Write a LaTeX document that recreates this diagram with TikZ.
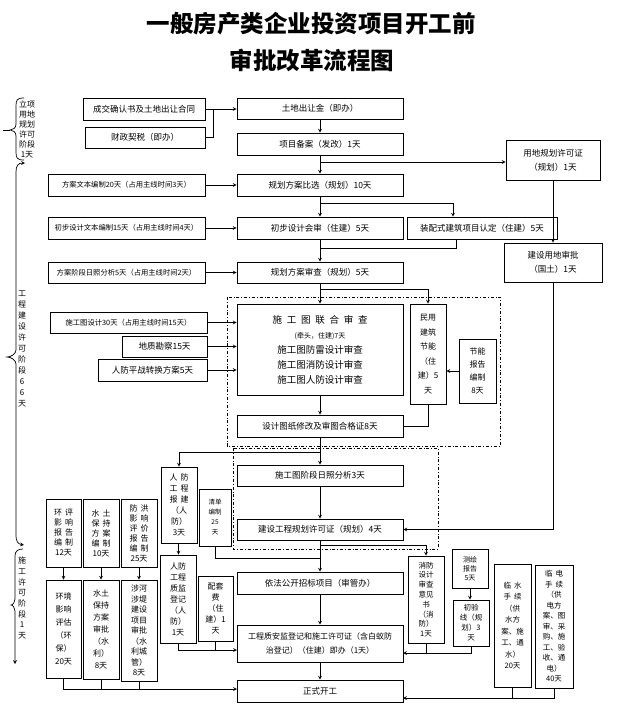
\documentclass[tikz,border=0pt]{standalone}
\usepackage{fontspec}
\setmainfont{Noto Sans CJK SC}
\newcommand{\cgap}{\hspace{3pt}}
\newcommand{\flow}[7][]{\node[box,#1,minimum width={(#5-#3)*1pt},minimum height={(#6-#4)*1pt}] (#2) at ({(#3+#5)/2},{(#4+#6)/2}) {#7};}

\begin{document}
\begin{tikzpicture}[x=1pt,y=-1pt,
    box/.style={draw,line width=0.8pt,inner sep=1pt,align=center,font=\fontsize{8.5}{10}\selectfont},
    side/.style={font=\fontsize{7.3}{9}\selectfont},
    col/.style={font=\fontsize{8}{11}\selectfont},
    link/.style={line width=0.7pt},
    phase/.style={align=center,font=\fontsize{8}{10}\selectfont}]
\useasboundingbox (0,0) rectangle (640,709);
\node[font=\bfseries\fontsize{23.5}{24}\selectfont] (title) at (311,24) {一般房产类企业投资项目开工前};
\node[font=\bfseries\fontsize{23.5}{24}\selectfont] (subtitle) at (312,60) {审批改革流程图};

\flow{cj}{83}{98}{205}{120}{成交确认书及土地出让合同}
\flow{cz}{85}{127}{205}{148}{财政契税（即办）}
\flow{td}{237}{98}{403}{119}{土地出让金（即办）}
\flow{ba}{237}{133}{403}{155}{项目备案（发改）1天}
\flow{bx}{237}{174}{403}{196}{规划方案比选（规划）10天}
\flow[side]{wb}{48}{174}{205}{196}{方案文本编制20天（占用主线时间3天）}
\flow{cs}{237}{217}{403}{239}{初步设计会审（住建）5天}
\flow[side]{cb}{48}{217}{205}{239}{初步设计文本编制15天（占用主线时间4天）}
\flow{zp}{407}{217}{557}{239}{装配式建筑项目认定（住建）5天}
\flow{sc}{237}{262}{403}{283}{规划方案审查（规划）5天}
\flow[side]{rf}{48}{262}{205}{283}{方案阶段日照分析5天（占用主线时间2天）}
\flow[font=\fontsize{8.5}{14}\selectfont]{yd}{506}{140}{600}{180}{用地规划许可证\\（规划）1天}
\flow[font=\fontsize{8.5}{14}\selectfont]{sp}{504}{243}{602}{282}{建设用地审批\\（国土）1天}

\draw[link,dash dot] (227,297) rectangle (500,446);
\flow[font=\fontsize{9.5}{15}\selectfont]{lh}{237}{304}{403}{395}{施\enspace 工\enspace 图\enspace 联\enspace 合\enspace 审\enspace 查\\{\fontsize{7}{9}\selectfont (牵头，住建)7天}\\施工图防雷设计审查\\施工图消防设计审查\\施工图人防设计审查}
\flow[font=\fontsize{8}{14.5}\selectfont]{my}{410}{304}{446}{404}{民用\\建筑\\节能\\（住\\建）5\\天}
\flow[font=\fontsize{8}{13}\selectfont]{jn}{459}{339}{496}{403}{节能\\报告\\编制\\8天}
\flow{sj}{237}{415}{403}{437}{设计图纸修改及审图合格证8天}
\flow[side]{sg}{50}{312}{207}{333}{施工图设计30天（占用主线时间15天）}
\flow{dz}{122}{336}{207}{357}{地质勘察15天}
\flow{rp}{98}{359}{207}{381}{人防平战转换方案5天}

\draw[link,dash dot] (233,448) rectangle (438,549);
\flow{rz}{237}{465}{403}{486}{施工图阶段日照分析3天}
\flow{gh}{237}{519}{403}{540}{建设工程规划许可证（规划）4天}
\flow[col]{rb}{161}{467}{197}{543}{人\cgap 防\\工\cgap 程\\报\cgap 建\\（人\\防）\\3天}
\flow[font=\fontsize{6.5}{10}\selectfont]{qd}{199}{489}{231}{546}{清单\\编制\\25\\天}
\flow{zb}{237}{572}{403}{594}{依法公开招标项目（审管办）}
\flow[font=\fontsize{8}{14}\selectfont]{zj}{237}{625}{403}{662}{工程质安监登记和施工许可证（含白蚁防\\治登记）（住建）即办（1天）}
\flow{kg}{237}{680}{403}{702}{正式开工}
\flow[col]{rj}{160}{555}{196}{643}{人防\\工程\\质监\\登记\\（人\\防）\\1天}
\flow[col]{pt}{198}{576}{233}{641}{配套\\费\\（住\\建）1\\天}
\flow[font=\fontsize{7.5}{9.8}\selectfont]{xf}{408}{556}{444}{643}{消防\\设计\\审查\\意见\\书\\（消\\防）\\1天}
\flow[font=\fontsize{7}{9}\selectfont]{ch}{452}{549}{488}{588}{测绘\\报告\\5天}
\flow[font=\fontsize{7.5}{10}\selectfont]{cy}{453}{600}{489}{646}{初验\\线（规\\划）3\\天}
\flow[font=\fontsize{7.5}{11.5}\selectfont]{ls}{494}{564}{531}{687}{临\cgap 水\\手\cgap 续\\（供\\水方\\案、施\\工、通\\水）\\20天}
\flow[font=\fontsize{7.5}{10.5}\selectfont]{ld}{535}{565}{573}{688}{临\cgap 电\\手\cgap 续\\（供\\电方\\案、图\\审、采\\购、施\\工、验\\收、通\\电）\\40天}

\flow[font=\fontsize{8}{10}\selectfont]{hb}{46}{499}{81}{567}{环\cgap 评\\影\cgap 响\\报\cgap 告\\编\cgap 制\\12天}
\flow[font=\fontsize{8}{10}\selectfont]{sb}{83}{499}{119}{567}{水\cgap 土\\保\cgap 持\\方\cgap 案\\编\cgap 制\\10天}
\flow[font=\fontsize{8}{10}\selectfont]{fb}{121}{499}{157}{567}{防\cgap 洪\\影\cgap 响\\评\cgap 价\\报\cgap 告\\编\cgap 制\\25天}
\flow[font=\fontsize{8}{13}\selectfont]{hp}{46}{580}{81}{678}{环境\\影响\\评估\\（环\\保）\\20天}
\flow[font=\fontsize{8}{12}\selectfont]{ss}{83}{580}{119}{679}{水土\\保持\\方案\\审批\\（水\\利）\\8天}
\flow[font=\fontsize{8}{10.5}\selectfont]{sh}{121}{580}{157}{681}{涉河\\涉堤\\建设\\项目\\审批\\（水\\利城\\管）\\8天}

\node[phase] (p1) at (27,129) {立项\\用地\\规划\\许可\\阶段\\1天};
\node[phase,font=\fontsize{8}{11}\selectfont] (p2) at (22,349) {工\\程\\建\\设\\许\\可\\阶\\段\\6\\6\\天};
\node[phase,font=\fontsize{8}{10.7}\selectfont] (p3) at (22,598) {施\\工\\许\\可\\阶\\段\\1\\天};
\draw[link] (3,130) -- (10,130);
\draw[link] (24,98) .. controls (17,98) and (16,100) .. (16,106) -- (16,124) .. controls (16,128) and (13,130) .. (10,130) .. controls (13,130) and (16,132) .. (16,136) -- (16,152) .. controls (16,158) and (17,160) .. (24,160);
\draw[link,stealth-stealth] (25,163) .. controls (18,163) and (16,166) .. (16,172) -- (16,350) .. controls (16,354) and (11,357) .. (7,357) .. controls (11,357) and (16,360) .. (16,364) -- (16,536) .. controls (16,541) and (18,544) .. (24,545);
\draw[link,-stealth] (23,549) .. controls (18,549) and (15,551) .. (15,556) -- (15,599) .. controls (15,602) and (13,605) .. (11,605) .. controls (13,605) and (15,608) .. (15,611) -- (15,664);

\coordinate (j1) at (213,109);
\draw[link] (cz.east) -| (j1);
\draw[link,-stealth] (cj.east) -- (cj.east -| td.west);
\draw[link,-stealth] (td) -- (ba);
\draw[link,-stealth] (ba) -- (bx);
\coordinate (b1) at (320,162);
\draw[link,-stealth] (b1) -- (b1 -| yd.west);
\draw[link,-stealth] (wb) -- (bx);
\draw[link,-stealth] (bx) -- (cs);
\coordinate (b2) at (453,203);
\draw[link,-stealth] (bx.south |- b2) -- (b2) -- (b2 |- zp.north);
\draw[link,-stealth] (cb) -- (cs);
\draw[link,-stealth] (cs) -- (sc);
\coordinate (b3) at (456,248);
\draw[link] (zp.south -| b3) -- (b3) -- (b3 -| cs.south);
\draw[link,-stealth] (rf) -- (sc);
\draw[link,-stealth] (yd) -- (sp);
\draw[link,-stealth] (sc) -- (lh);
\coordinate (b4) at (320,289);
\draw[link,-stealth] (b4) -| (my.north);
\foreach \n in {sg,dz,rp} \draw[link,-stealth] (\n.east) -- (\n.east -| lh.west);
\draw[link,-stealth] (jn.west) -- (jn.west -| my.east);
\draw[link,-stealth] (lh) -- (sj);
\draw[link] (my.south) |- (sj.east);
\draw[link,-stealth] (sj) -- (rz);
\coordinate (b5) at (320,452);
\draw[link,-stealth] (b5) -| (rb.north);
\draw[link,-stealth] (rz) -- (gh);
\draw[link,-stealth] (sp.south) |- (gh.east);
\draw[link,-stealth] (gh) -- (zb);
\coordinate (b6) at (320,545);
\draw[link,-stealth] (b6) -| (xf.north);
\coordinate (b7) at (320,558);
\draw[link] (qd.south) |- (b7);
\draw[link,-stealth] (zb) -- (zj);
\draw[link,-stealth] (zj) -- (kg);
\draw[link,-stealth] (rb) -- (rj);
\coordinate (b8) at (237,650);
\draw[link,-stealth] (rj.south) |- (b8);
\draw[link] (pt.south) -- (pt.south |- b8);
\draw[link,-stealth] (ch.south) -- (ch.south |- cy.north);
\coordinate (b9) at (403,653);
\draw[link,-stealth] (cy.south) |- (b9);
\draw[link] (xf.south) -- (xf.south |- b9);
\coordinate (b10) at (403,698);
\draw[link,-stealth] (ld.south) |- (b10);
\draw[link] (ls.south) -- (ls.south |- b10);
\foreach \a/\b in {hb/hp,sb/ss,fb/sh} \draw[link,-stealth] (\a) -- (\b);
\coordinate (b11) at (237,689);
\draw[link,-stealth] (hp.south) |- (b11);
\foreach \n in {ss,sh} \draw[link] (\n.south) -- (\n.south |- b11);
\end{tikzpicture}
\end{document}
